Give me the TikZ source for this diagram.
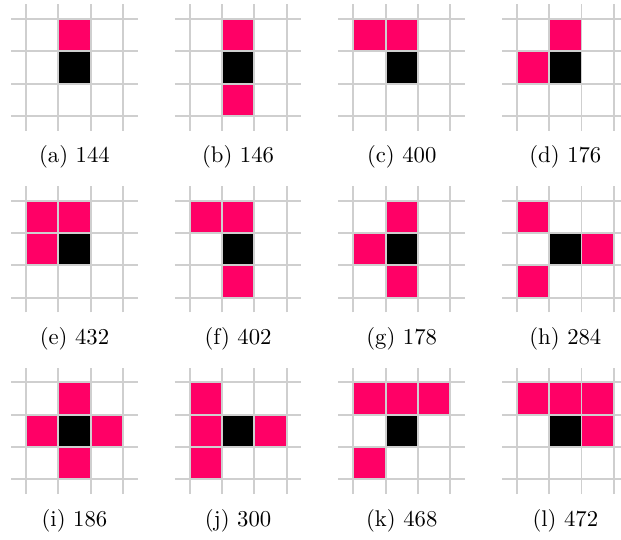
\documentclass[tikz,border=0pt]{standalone}
\usepackage{amssymb,amsmath}
\usepackage{tikz,xcolor}

\definecolor{hotpink}{HTML}{FF0066}
\definecolor{gridgray}{HTML}{CFCFCF}

\tikzset{
  gridline/.style={gridgray,line width=0.85pt},
  oncell/.style={fill=hotpink}
}

% grid with black centre cell and caption
\newcommand{\cellgrid}[2]{%
  \fill[black] (0.5,0.5) rectangle (1,1);
  \foreach \t in {0,0.5,1,1.5} {
    \draw[gridline] (\t,-0.23) -- (\t,1.73);
    \draw[gridline] (-0.23,\t) -- (1.73,\t);
  }
  \node (cap#1) at (0.75,-0.64) {(#1) #2};
}

\begin{document}
\begin{tikzpicture}

  \useasboundingbox (0,0) rectangle (9.613,8.344);

  % First row
  \begin{scope}[shift={(0.4025,6.550)}]
    \fill[oncell] (0.5,1) rectangle (1,1.5);
    \cellgrid{a}{144}
  \end{scope}

  \begin{scope}[shift={(2.9355,6.550)}]
    \fill[oncell] (0.5,1) rectangle (1,1.5);
    \fill[oncell] (0.5,0) rectangle (1,0.5);
    \cellgrid{b}{146}
  \end{scope}

  \begin{scope}[shift={(5.4685,6.550)}]
    \fill[oncell] (0,1) rectangle (0.5,1.5);
    \fill[oncell] (0.5,1) rectangle (1,1.5);
    \cellgrid{c}{400}
  \end{scope}

  \begin{scope}[shift={(8.0015,6.550)}]
    \fill[oncell] (0.5,1) rectangle (1,1.5);
    \fill[oncell] (0,0.5) rectangle (0.5,1);
    \cellgrid{d}{176}
  \end{scope}

  % Second row
  \begin{scope}[shift={(0.4025,3.737)}]
    \fill[oncell] (0,1) rectangle (0.5,1.5);
    \fill[oncell] (0.5,1) rectangle (1,1.5);
    \fill[oncell] (0,0.5) rectangle (0.5,1);
    \cellgrid{e}{432}
  \end{scope}

  \begin{scope}[shift={(2.9355,3.737)}]
    \fill[oncell] (0,1) rectangle (0.5,1.5);
    \fill[oncell] (0.5,1) rectangle (1,1.5);
    \fill[oncell] (0.5,0) rectangle (1,0.5);
    \cellgrid{f}{402}
  \end{scope}

  \begin{scope}[shift={(5.4685,3.737)}]
    \fill[oncell] (0.5,1) rectangle (1,1.5);
    \fill[oncell] (0,0.5) rectangle (0.5,1);
    \fill[oncell] (0.5,0) rectangle (1,0.5);
    \cellgrid{g}{178}
  \end{scope}

  \begin{scope}[shift={(8.0015,3.737)}]
    \fill[oncell] (0,1) rectangle (0.5,1.5);
    \fill[oncell] (1,0.5) rectangle (1.5,1);
    \fill[oncell] (0,0) rectangle (0.5,0.5);
    \cellgrid{h}{284}
  \end{scope}

  % Third row
  \begin{scope}[shift={(0.4025,0.924)}]
    \fill[oncell] (0.5,1) rectangle (1,1.5);
    \fill[oncell] (0,0.5) rectangle (0.5,1);
    \fill[oncell] (1,0.5) rectangle (1.5,1);
    \fill[oncell] (0.5,0) rectangle (1,0.5);
    \cellgrid{i}{186}
  \end{scope}

  \begin{scope}[shift={(2.9355,0.924)}]
    \fill[oncell] (0,1) rectangle (0.5,1.5);
    \fill[oncell] (0,0.5) rectangle (0.5,1);
    \fill[oncell] (1,0.5) rectangle (1.5,1);
    \fill[oncell] (0,0) rectangle (0.5,0.5);
    \cellgrid{j}{300}
  \end{scope}

  \begin{scope}[shift={(5.4685,0.924)}]
    \fill[oncell] (0,1) rectangle (0.5,1.5);
    \fill[oncell] (0.5,1) rectangle (1,1.5);
    \fill[oncell] (1,1) rectangle (1.5,1.5);
    \fill[oncell] (0,0) rectangle (0.5,0.5);
    \cellgrid{k}{468}
  \end{scope}

  \begin{scope}[shift={(8.0015,0.924)}]
    \fill[oncell] (0,1) rectangle (0.5,1.5);
    \fill[oncell] (0.5,1) rectangle (1,1.5);
    \fill[oncell] (1,1) rectangle (1.5,1.5);
    \fill[oncell] (1,0.5) rectangle (1.5,1);
    \cellgrid{l}{472}
  \end{scope}

\end{tikzpicture}
\end{document}
